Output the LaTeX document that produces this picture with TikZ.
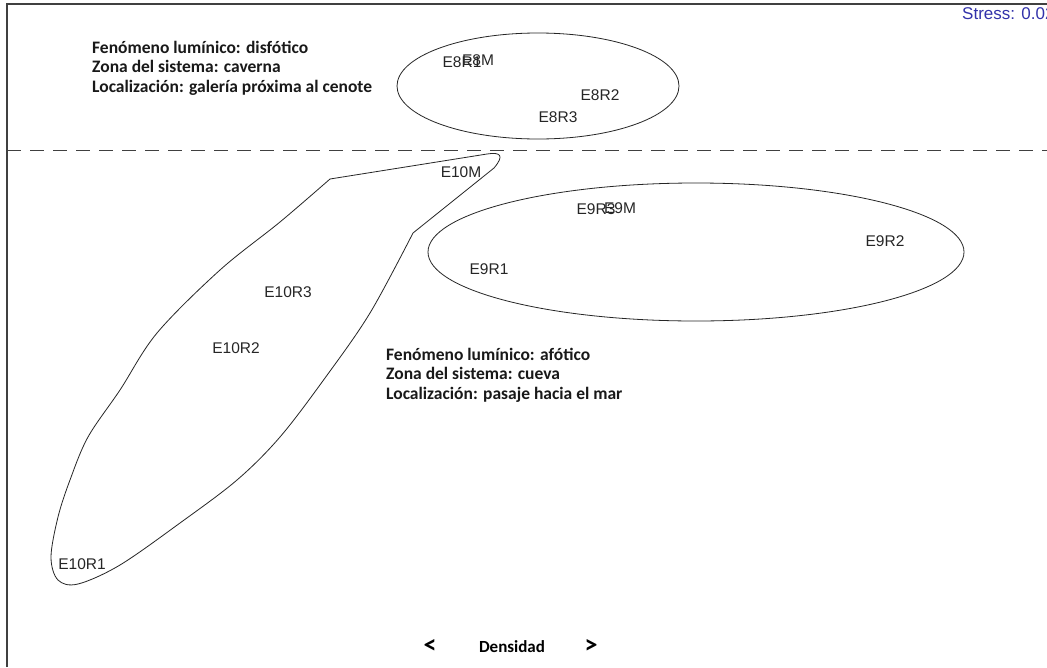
\documentclass[tikz,border=0pt]{standalone}
\usepackage{fontspec}
\setmainfont{Liberation Sans}
\newfontfamily\calib{Carlito}
\begin{document}
\begin{tikzpicture}[x=1pt,y=-1pt,
  lbl/.style={font=\fontsize{15.5}{16}\selectfont, text=black!85, inner sep=0pt},
  info/.style={font=\calib\bfseries\fontsize{17.5}{19.3}\selectfont, align=left, anchor=north west, inner sep=0pt, text=black!90},
  hull/.style={draw=black!85, line width=0.8pt}]
  \useasboundingbox (0,0) rectangle (1047,667);
  \fill[white] (0,0) rectangle (1047,667);
  % plot frame (left and top sides)
  \draw[black!75, line width=1.2pt] (7,667) -- (7,4) -- (1047,4);
  % zone divider
  \draw[black!75, line width=0.9pt, dash pattern=on 14pt off 9pt] (7,150) -- (1047,150);
  \node[font=\fontsize{17}{17}\selectfont, text={rgb,255:red,50;green,50;blue,170}, anchor=west, inner sep=0pt] (stress) at (962,14) {Stress: 0.02};

  % station E8 group
  \draw[hull] (538,86) ellipse [x radius=141, y radius=53];
  \node[lbl] (e8r1) at (462,62) {E8R1};
  \node[lbl] (e8m) at (478,60) {E8M};
  \node[lbl] (e8r2) at (600,95) {E8R2};
  \node[lbl] (e8r3) at (558,117) {E8R3};

  % station E9 group
  \draw[hull] (696,252) ellipse [x radius=268, y radius=69];
  \node[lbl] (e9r3) at (596,209) {E9R3};
  \node[lbl] (e9m) at (620,208) {E9M};
  \node[lbl] (e9r2) at (885,241) {E9R2};
  \node[lbl] (e9r1) at (489,269) {E9R1};

  % station E10 group
  \draw[hull] (330,179) -- (487,154) .. controls (500,152) and (505,155) .. (494,168) -- (413,233)
    plot[smooth, tension=0.55] coordinates {(413,233) (370,313) (325,378) (280,437) (237,480) (180,523) (120,565) (78,584) (58,580) (51,557) (58,517) (70,480) (88,437) (120,390) (157,333) (220,270) (280,222) (330,179)};
  \node[lbl] (e10m) at (461,172) {E10M};
  \node[lbl] (e10r3) at (288,292) {E10R3};
  \node[lbl] (e10r2) at (236,348) {E10R2};
  \node[lbl] (e10r1) at (82,564) {E10R1};

  % zone descriptions
  \node[info] (upper) at (92,41) {Fenómeno lumínico: disfótico\\Zona del sistema: caverna\\Localización: galería próxima al cenote};
  \node[info] (lower) at (386,348) {Fenómeno lumínico: afótico\\Zona del sistema: cueva\\Localización: pasaje hacia el mar};

  % axis caption
  \node[font=\calib\bfseries\fontsize{17}{18}\selectfont, inner sep=0pt] (dens) at (512,647) {Densidad};
  \node[font=\calib\bfseries\fontsize{26}{26}\selectfont, inner sep=0pt] (lt) at (430,646) {<};
  \node[font=\calib\bfseries\fontsize{26}{26}\selectfont, inner sep=0pt] (gt) at (591,646) {>};
\end{tikzpicture}
\end{document}
